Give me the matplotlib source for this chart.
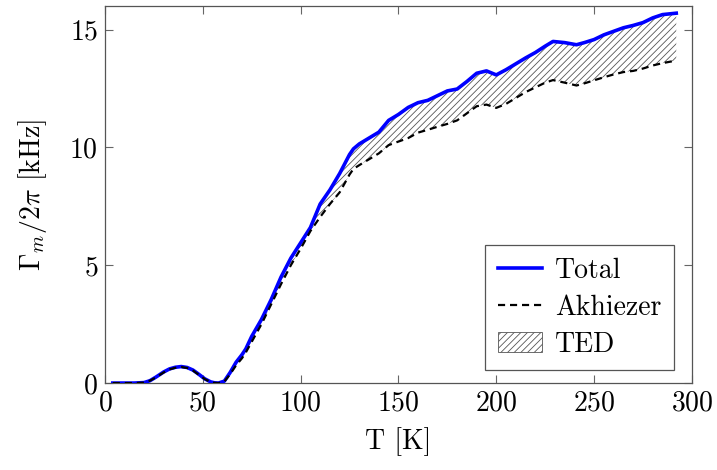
import matplotlib
matplotlib.use('Agg')
import matplotlib.pyplot as plt
from matplotlib.patches import Patch

# temperature [K]
T = [4, 10, 15, 20, 23, 26, 30, 33, 36, 39, 42, 45, 48, 51, 54, 56, 58, 61, 64, 67,
     70, 72, 75, 80, 85, 90, 95, 100, 105, 110, 115, 120, 125, 127, 130, 135, 140,
     145, 150, 155, 160, 165, 170, 175, 180, 185, 190, 195, 200, 205, 210, 215, 220,
     225, 229, 235, 241, 245, 250, 255, 260, 265, 270, 275, 280, 285, 292]

# total damping Gamma_m/2pi [kHz]
total = [0, 0, 0, 0.02, 0.1, 0.25, 0.47, 0.6, 0.67, 0.7, 0.66, 0.55, 0.37, 0.18, 0.05,
         0.01, 0.0, 0.08, 0.45, 0.88, 1.2, 1.45, 1.98, 2.7, 3.55, 4.5, 5.3, 5.95, 6.6,
         7.6, 8.2, 8.9, 9.7, 9.94, 10.15, 10.4, 10.65, 11.15, 11.4, 11.7, 11.9, 12.0,
         12.2, 12.4, 12.48, 12.8, 13.15, 13.25, 13.08, 13.3, 13.55, 13.8, 14.03, 14.3,
         14.5, 14.45, 14.36, 14.45, 14.58, 14.78, 14.93, 15.08, 15.18, 15.3, 15.5, 15.64,
         15.7]

# Akhiezer contribution [kHz]
akhiezer = [0, 0, 0, 0.02, 0.1, 0.24, 0.45, 0.58, 0.65, 0.68, 0.64, 0.53, 0.35, 0.17,
            0.04, 0.01, 0.0, 0.06, 0.38, 0.75, 1.05, 1.3, 1.75, 2.5, 3.35, 4.2, 5.0, 5.7,
            6.45, 7.05, 7.6, 8.1, 8.85, 9.09, 9.25, 9.5, 9.75, 10.1, 10.25, 10.4, 10.63,
            10.75, 10.88, 11.0, 11.15, 11.45, 11.75, 11.82, 11.68, 11.85, 12.1, 12.35,
            12.55, 12.75, 12.86, 12.75, 12.63, 12.72, 12.85, 12.98, 13.1, 13.2, 13.25,
            13.35, 13.48, 13.58, 13.69]

plt.rcParams['font.family'] = 'serif'
plt.rcParams['font.serif'] = ['cmr10']
plt.rcParams['mathtext.fontset'] = 'cm'
plt.rcParams['axes.unicode_minus'] = False
plt.rcParams['axes.formatter.use_mathtext'] = True
plt.rcParams['hatch.linewidth'] = 0.6
plt.rcParams['hatch.color'] = '#555555'

fig = plt.figure(figsize=(7.17, 4.70), dpi=100)
ax = fig.add_axes([0.1464, 0.185, 0.8186, 0.802])

ax.fill_between(T, akhiezer, total, facecolor='none', edgecolor='#555555',
                hatch='/////', linewidth=0)
ax.plot(T, total, color='blue', lw=2.6, label='Total', zorder=3)
ax.plot(T, akhiezer, color='black', lw=1.6, linestyle=(0, (3.2, 2.2)),
        label='Akhiezer', zorder=4)

ax.set_xlim(0, 300)
ax.set_ylim(0, 16)
ax.set_xticks([0, 50, 100, 150, 200, 250, 300])
ax.set_yticks([0, 5, 10, 15])
ax.tick_params(direction='in', top=True, right=True, length=6, width=0.8,
               color='#666666', labelsize=20, pad=5)
for s in ax.spines.values():
    s.set_color('#555555')
    s.set_linewidth(0.9)

ax.set_xlabel('T [K]', fontsize=20, labelpad=8)
ax.set_ylabel(r'$\Gamma_m/2\pi$ [kHz]', fontsize=20, labelpad=15)

handles, labels = ax.get_legend_handles_labels()
handles.append(Patch(facecolor='white', edgecolor='#555555', hatch='/////', lw=0.6))
labels.append('TED')
leg = ax.legend(handles, labels, loc='lower right', fontsize=20, fancybox=False,
                framealpha=1, edgecolor='#555555', handlelength=1.6,
                handletextpad=0.45, borderpad=0.45, labelspacing=0.38,
                borderaxespad=0, bbox_to_anchor=(0.969, 0.034))
leg.get_frame().set_linewidth(0.9)

fig.savefig('out.png', dpi=100)
